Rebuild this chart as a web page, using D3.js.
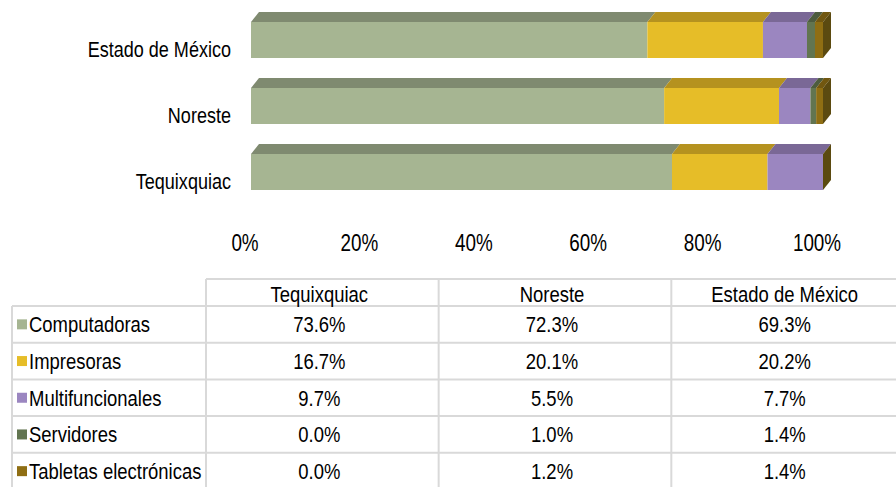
<!DOCTYPE html>
<html>
<head>
<meta charset="utf-8">
<script src="https://cdn.jsdelivr.net/npm/d3@7"></script>
<style>
  body { margin: 0; background: #fff; }
  svg text { font-family: "Liberation Sans", Arial, sans-serif; fill: #000; }
</style>
</head>
<body>
<svg id="chart" width="896" height="487" viewBox="0 0 896 487"></svg>
<script>
// chart data
const regions = ["Estado de México", "Noreste", "Tequixquiac"];   // bar order, top to bottom
const tableRegions = ["Tequixquiac", "Noreste", "Estado de México"];
const series = ["Computadoras", "Impresoras", "Multifuncionales", "Servidores", "Tabletas electrónicas"];
const values = {
    "Tequixquiac": [73.6, 16.7, 9.7, 0.0, 0.0],
    "Noreste": [72.3, 20.1, 5.5, 1.0, 1.2],
    "Estado de México": [69.3, 20.2, 7.7, 1.4, 1.4]
};
const ticks = [0, 20, 40, 60, 80, 100];

const frontColors = ["#a6b592", "#e6bd28", "#9b86c0", "#627550", "#8f6e13"];
const topColors = ["#7f8a70", "#b5921f", "#7a6896", "#4d5c3f", "#715710"];
const sideColors = ["#6a7560", "#8c7118", "#5f5175", "#3d4932", "#5b4a10"];

const svg = d3.select('#chart');

// narrow text: no Arial Narrow installed, so squeeze Liberation Sans horizontally
function addText(parent, x, y, str, size, anchor, sx) {
    return parent.append('text')
        .attr('transform', `translate(${x},${y}) scale(${sx || 0.82},1)`)
        .attr('text-anchor', anchor || 'start')
        .style('font-size', size + 'px')
        .text(str);
}

// Scale to svg coordinate
const x = d3.scaleLinear().domain([0, 100]).range([251, 823]);
const y = d3.scaleBand().domain(regions).range([22, 190]).paddingInner(30 / 66);
const depthX = 8, depthY = 10;

const barGroup = svg.append('g');
regions.forEach(r => {
    const total = d3.sum(values[r]);
    let acc = 0;
    const segs = values[r].map((v, i) => {
        const s = { i: i, x0: acc / total * 100, x1: (acc + v) / total * 100 };
        acc += v;
        return s;
    });
    const y0 = y(r), h = y.bandwidth();
    const g = barGroup.append('g');
    // top faces
    g.selectAll('path.top')
        .data(segs)
        .enter()
        .append('path')
        .attr('d', s => `M${x(s.x0)},${y0} L${x(s.x0) + depthX},${y0 - depthY} L${x(s.x1) + depthX},${y0 - depthY} L${x(s.x1)},${y0} Z`)
        .attr('fill', s => topColors[s.i]);
    // front faces
    g.selectAll('rect.front')
        .data(segs)
        .enter()
        .append('rect')
        .attr('x', s => x(s.x0))
        .attr('y', y0)
        .attr('width', s => x(s.x1) - x(s.x0))
        .attr('height', h)
        .attr('fill', s => frontColors[s.i]);
    // right side (last segment drawn on top)
    const last = segs[segs.length - 1];
    const xe = x(last.x1);
    g.append('path')
        .attr('d', `M${xe},${y0} L${xe + depthX},${y0 - depthY} L${xe + depthX},${y0 + h - depthY} L${xe},${y0 + h} Z`)
        .attr('fill', sideColors[last.i]);
    // category label
    addText(svg, 231, y0 + h / 2 + 17, r, 22, 'end');
});

// Axis tick labels
const tickGroup = svg.append('g');
ticks.forEach(t => addText(tickGroup, x(t) - 6, 251, t + '%', 23, 'middle'));

// Data table
const colX = d3.scaleBand().domain(tableRegions).range([206, 904]);
const headTop = 279, bodyTop = 306;
const rowY = d3.scaleBand().domain(series).range([bodyTop, bodyTop + 5 * 36.7]);
const rowH = rowY.bandwidth();
const table = svg.append('g');
const lineColor = '#d9d9d9';

// horizontal lines
table.append('line')
    .attr('x1', 206).attr('x2', 896)
    .attr('y1', headTop).attr('y2', headTop)
    .attr('stroke', lineColor).attr('stroke-width', 2);
table.selectAll('line.h')
    .data(series)
    .enter()
    .append('line')
    .attr('x1', 12).attr('x2', 896)
    .attr('y1', d => rowY(d)).attr('y2', d => rowY(d))
    .attr('stroke', lineColor).attr('stroke-width', 2);
// vertical lines
table.append('line')
    .attr('x1', 12).attr('x2', 12)
    .attr('y1', bodyTop).attr('y2', 487)
    .attr('stroke', lineColor).attr('stroke-width', 2);
table.selectAll('line.v')
    .data(tableRegions)
    .enter()
    .append('line')
    .attr('x1', d => colX(d)).attr('x2', d => colX(d))
    .attr('y1', headTop).attr('y2', 487)
    .attr('stroke', lineColor).attr('stroke-width', 2);

// header texts
tableRegions.forEach(d => addText(table, colX(d) + colX.bandwidth() / 2 - 3, 302, d, 22, 'middle', 0.84));

// legend keys + row labels + values
series.forEach((s, i) => {
    const cy = rowY(s) + rowH / 2;
    table.append('rect')
        .attr('x', 17).attr('y', cy - 5)
        .attr('width', 10).attr('height', 10)
        .attr('fill', frontColors[i]);
    addText(table, 29, cy + 8, s, 22, 'start', 0.84);
    tableRegions.forEach(d => addText(table, colX(d) + colX.bandwidth() / 2 - 3, cy + 8, values[d][i].toFixed(1) + '%', 22, 'middle', 0.84));
});
</script>
</body>
</html>
